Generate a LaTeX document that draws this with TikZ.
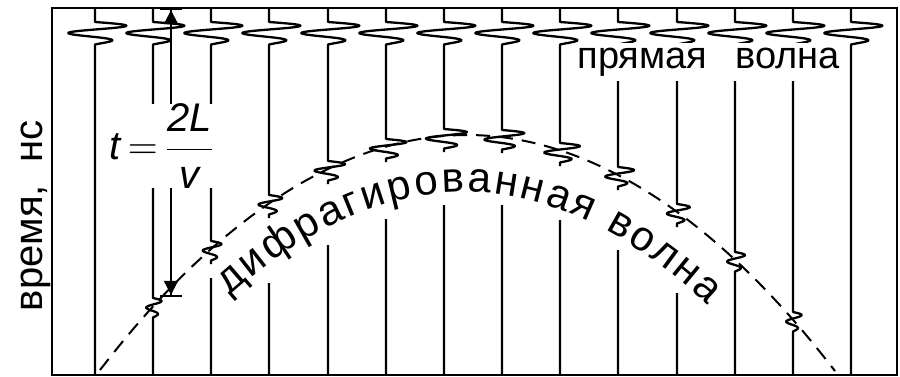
\documentclass[tikz,border=0pt]{standalone}
\usepackage{amsmath}
\usepackage{fontspec}
\setmainfont{Liberation Sans}
\usepackage{tikz}
\usetikzlibrary{arrows.meta, decorations.text}

%% wavelets: direct wave (fixed size) and diffracted wave (x, top, amplitude)
\newcommand{\dwav}[1]{-- plot[domain=0:1.5, samples=50, variable=\ph]
  ({#1+32*(1-0.3*\ph*\ph)*sin(360*\ph)}, {22+15*\ph})}
\newcommand{\fwav}[3]{-- plot[domain=0:1.5, samples=40, variable=\ph]
  ({#1+#3*(1.05-0.4*\ph)*sin(360*\ph)}, {#2+13*\ph})}

\tikzset{
  plotframe/.style={draw=black, line width=1pt},
  trace/.style={draw=black, line width=1.15pt, line join=round},
  diffline/.style={draw=black, line width=1pt, dash pattern=on 7pt off 4.5pt},
  timearrow/.style={draw=black, line width=1.1pt,
    {Bar[width=11pt,sep=0pt]Triangle[length=7pt,width=7pt,sep=0pt]}-{Triangle[length=7pt,width=7pt,sep=0pt]Bar[width=11pt,sep=0pt]}},
  lbl/.style={font=\fontsize{19pt}{21pt}\selectfont},
}

\begin{document}
\begin{tikzpicture}[x=0.5pt, y=-0.5pt]

\useasboundingbox (0,0) rectangle (900,376);

%% -- frame --
\draw[plotframe] (52,8) rectangle (897,375);

%% -- diffraction hyperbola --
\draw[diffline] (100,370) parabola bend (467,135) (835,371);

%% -- traces --
\draw[trace] (95,8) -- (95,22) \dwav{95} -- (95,375);
\draw[trace] (153,8) -- (153,22) \dwav{153} -- (153,298) \fwav{153}{298}{9} -- (153,375);
\draw[trace] (211,8) -- (211,22) \dwav{211} -- (211,241) \fwav{211}{241}{11} -- (211,264)
             (211,278) -- (211,375);
\draw[trace] (269,8) -- (269,22) \dwav{269} -- (269,195) \fwav{269}{195}{14} -- (269,218)
             (269,283) -- (269,375);
\draw[trace] (328,8) -- (328,22) \dwav{328} -- (328,161) \fwav{328}{161}{18} -- (328,184)
             (328,245) -- (328,375);
\draw[trace] (386,8) -- (386,22) \dwav{386} -- (386,139) \fwav{386}{139}{21.5} -- (386,162)
             (386,219) -- (386,375);
\draw[trace] (444,8) -- (444,22) \dwav{444} -- (444,129) \fwav{444}{129}{24} -- (444,152)
             (444,205) -- (444,375);
\draw[trace] (502,8) -- (502,22) \dwav{502} -- (502,130) \fwav{502}{130}{23.5} -- (502,153)
             (502,205) -- (502,375);
\draw[trace] (560,8) -- (560,22) \dwav{560} -- (560,143) \fwav{560}{143}{21} -- (560,166)
             (560,220) -- (560,375);
\draw[trace] (618,8) -- (618,22) \dwav{618} -- (618,167) \fwav{618}{167}{17} -- (618,190)
             (618,250) -- (618,375);
\draw[trace] (677,8) -- (677,22) \dwav{677} -- (677,204) \fwav{677}{204}{13.5} -- (677,227)
             (677,293) -- (677,375);
\draw[trace] (735,8) -- (735,22) \dwav{735} -- (735,252) \fwav{735}{252}{10.5} -- (735,375);
\draw[trace] (793,8) -- (793,22) \dwav{793} -- (793,312) \fwav{793}{312}{9} -- (793,375);
\draw[trace] (851,8) -- (851,22) \dwav{851} -- (851,375);

%% -- two-way time arrow --
\coordinate (ttop) at (171,8);
\coordinate (tbot) at (171,297);
\draw[timearrow] (ttop) -- (tbot);

%% -- labels --
\node[fill=white, minimum width=49pt, minimum height=40pt, inner sep=0pt,
      font=\fontsize{20pt}{22pt}\selectfont] (tform) at (162,146)
  {$\textit{t}\,{=}\,\dfrac{\textit{2L}}{\textit{v}}$};

\node[lbl, anchor=base west, fill=white, inner xsep=2pt, inner ysep=2.5pt]
  (direct) at (573,68) {прямая\hspace{0.75em}волна};

\node[rotate=90, anchor=base, font=\fontsize{20pt}{22pt}\selectfont]
  (tlabel) at (42,216) {время,~~нс};

\path[decorate, decoration={text along path, text align={fit to path},
      text={|\fontsize{21pt}{23pt}\selectfont|дифрагированная волна}}]
  (230,296) parabola bend (464,192) (708,305);

\end{tikzpicture}
\end{document}
